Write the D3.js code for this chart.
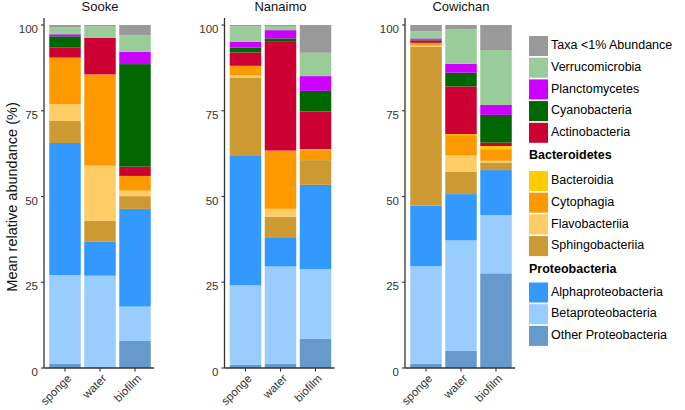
<!DOCTYPE html>
<html><head><meta charset="utf-8">
<script src="https://cdn.jsdelivr.net/npm/d3@7"></script>
<style>body{margin:0;background:#fff}svg{display:block;font-family:"Liberation Sans",Arial,sans-serif}</style>
</head><body><svg id="c" width="685" height="410"></svg>
<script>
const sites = ["Sooke", "Nanaimo", "Cowichan"];
const sampleTypes = ["sponge", "water", "biofilm"];
const yTicks = [0, 25, 50, 75, 100];
// values per sample in order: Sooke sponge, water, biofilm, Nanaimo sponge, water, biofilm, Cowichan sponge, water, biofilm
const otherProteo   = [1.2, 0.0, 7.9,  0.9, 1.2, 8.5,  1.2, 5.0, 27.6];
const betaproteo    = [25.9, 26.9, 10.0, 23.2, 28.4, 20.3, 28.5, 32.2, 17.0];
const alphaproteo   = [38.5, 9.9, 28.5, 37.7, 8.3, 24.6, 17.6, 13.5, 13.1];
const sphingo       = [6.4, 6.1, 3.7, 22.9, 6.2, 7.2, 46.4, 6.5, 2.2];
const flavo         = [4.9, 16.1, 1.6, 0.6, 2.3, 0.0, 0.3, 4.8, 0.5];
const cytophagia    = [13.6, 26.6, 4.3, 2.8, 17.0, 2.9, 0.8, 5.9, 3.4];
const bacteroidia   = [0.0, 0.0, 0.0, 0.0, 0.0, 0.3, 0.0, 0.3, 0.9];
const actino        = [3.0, 10.7, 2.7, 3.9, 31.9, 11.0, 0.7, 13.9, 1.0];
const cyano         = [3.2, 0.0, 29.9, 1.4, 0.8, 6.0, 0.2, 4.0, 8.1];
const plancto       = [0.6, 0.0, 3.6, 1.7, 2.4, 4.3, 0.4, 2.6, 2.9];
const verruco       = [2.0, 3.3, 4.9, 4.5, 1.2, 6.8, 2.1, 10.0, 16.0];
const taxaLow       = [0.7, 0.4, 2.9, 0.4, 0.3, 8.1, 1.8, 1.3, 7.3];

const taxa = ["Other Proteobacteria","Betaproteobacteria","Alphaproteobacteria","Sphingobacteriia","Flavobacteriia","Cytophagia","Bacteroidia","Actinobacteria","Cyanobacteria","Planctomycetes","Verrucomicrobia","Taxa <1% Abundance"];
const taxaValues = [otherProteo, betaproteo, alphaproteo, sphingo, flavo, cytophagia, bacteroidia, actino, cyano, plancto, verruco, taxaLow];
const taxaColors = ["#6699CC","#99CCFF","#3399FF","#CC9933","#FFCC66","#FF9900","#FFCC00","#CC0033","#006600","#CC00FF","#99CC99","#999999"];

const svg = d3.select("#c");
const y = d3.scaleLinear().domain([0, 100]).range([368, 25]);
const color = d3.scaleOrdinal().domain(taxa).range(taxaColors);
const panelX = [44, 224.5, 405];
const axisCol = "#333";

// build rows
const rows = [];
sites.forEach((s, si) => sampleTypes.forEach((t, ti) => {
  const r = {site: s, type: t};
  taxa.forEach((k, ki) => r[k] = taxaValues[ki][si * 3 + ti]);
  rows.push(r);
}));
const stack = d3.stack().keys(taxa);

sites.forEach((site, si) => {
  const x0 = panelX[si];
  const x = d3.scaleBand().domain(sampleTypes).range([x0 + 3.5, x0 + 108.5]).paddingInner(0.1).paddingOuter(0.05);
  const data = rows.filter(r => r.site === site);
  const series = stack(data);
  const g = svg.append("g");
  series.forEach(ser => {
    g.selectAll(null).data(ser).join("rect")
      .attr("x", d => x(d.data.type))
      .attr("width", x.bandwidth())
      .attr("y", d => y(d[1]))
      .attr("height", d => Math.max(0, y(d[0]) - y(d[1])))
      .attr("fill", color(ser.key));
  });
  // y axis
  const ya = svg.append("g").attr("transform", `translate(${x0},0)`);
  ya.append("line").attr("x1", 0).attr("x2", 0).attr("y1", 18).attr("y2", 368).attr("stroke", axisCol).attr("stroke-width", 1.3);
  yTicks.forEach(t => {
    ya.append("line").attr("x1", -3).attr("x2", 0).attr("y1", y(t)).attr("y2", y(t)).attr("stroke", axisCol).attr("stroke-width", 1.1);
    ya.append("text").attr("x", -6).attr("y", y(t) + 5).attr("text-anchor", "end").attr("dominant-baseline", "middle")
      .attr("font-size", 11.5).attr("fill", "#333").text(t);
  });
  // x axis
  const xa = svg.append("g");
  xa.append("line").attr("x1", x0).attr("x2", x0 + 110).attr("y1", 368).attr("y2", 368).attr("stroke", axisCol).attr("stroke-width", 1.3);
  sampleTypes.forEach(t => {
    const cx = x(t) + x.bandwidth() / 2;
    xa.append("line").attr("x1", cx).attr("x2", cx).attr("y1", 368).attr("y2", 371.5).attr("stroke", axisCol).attr("stroke-width", 1.1);
    xa.append("text").attr("transform", `translate(${cx + 5},${377}) rotate(-45)`).attr("text-anchor", "end")
      .attr("dominant-baseline", "middle").attr("font-size", 11.5).attr("fill", "#333").text(t);
  });
  // title
  const [a, b] = x.range();
  svg.append("text").attr("x", (x(sampleTypes[0]) + x(sampleTypes[2]) + x.bandwidth()) / 2).attr("y", 11)
    .attr("text-anchor", "middle").attr("font-size", 13).attr("fill", "#111").text(site);
});

// y axis title
svg.append("text").attr("transform", "translate(13,197) rotate(-90)").attr("text-anchor", "middle")
  .attr("dominant-baseline", "middle").attr("font-size", 14.5).attr("fill", "#111").text("Mean relative abundance (%)");

// legend
const legendItems = [
  {k: "Taxa <1% Abundance", y: 46}, {k: "Verrucomicrobia", y: 67.7}, {k: "Planctomycetes", y: 89.4},
  {k: "Cyanobacteria", y: 111.1}, {k: "Actinobacteria", y: 132.8},
  {h: "Bacteroidetes", y: 156},
  {k: "Bacteroidia", y: 181}, {k: "Cytophagia", y: 202.7}, {k: "Flavobacteriia", y: 224.4}, {k: "Sphingobacteriia", y: 246.1},
  {h: "Proteobacteria", y: 270},
  {k: "Alphaproteobacteria", y: 292.5}, {k: "Betaproteobacteria", y: 314.2}, {k: "Other Proteobacteria", y: 335.9}
];
const lg = svg.append("g");
legendItems.forEach(it => {
  if (it.h) {
    lg.append("text").attr("x", 529).attr("y", it.y).attr("dominant-baseline", "middle").attr("font-size", 12.5)
      .attr("font-weight", "bold").attr("fill", "#000").text(it.h);
  } else {
    lg.append("rect").attr("x", 529).attr("y", it.y - 10).attr("width", 19).attr("height", 20).attr("fill", color(it.k));
    lg.append("text").attr("x", 551).attr("y", it.y).attr("dominant-baseline", "middle").attr("font-size", 12.5)
      .attr("fill", "#000").text(it.k);
  }
});
</script></body></html>
